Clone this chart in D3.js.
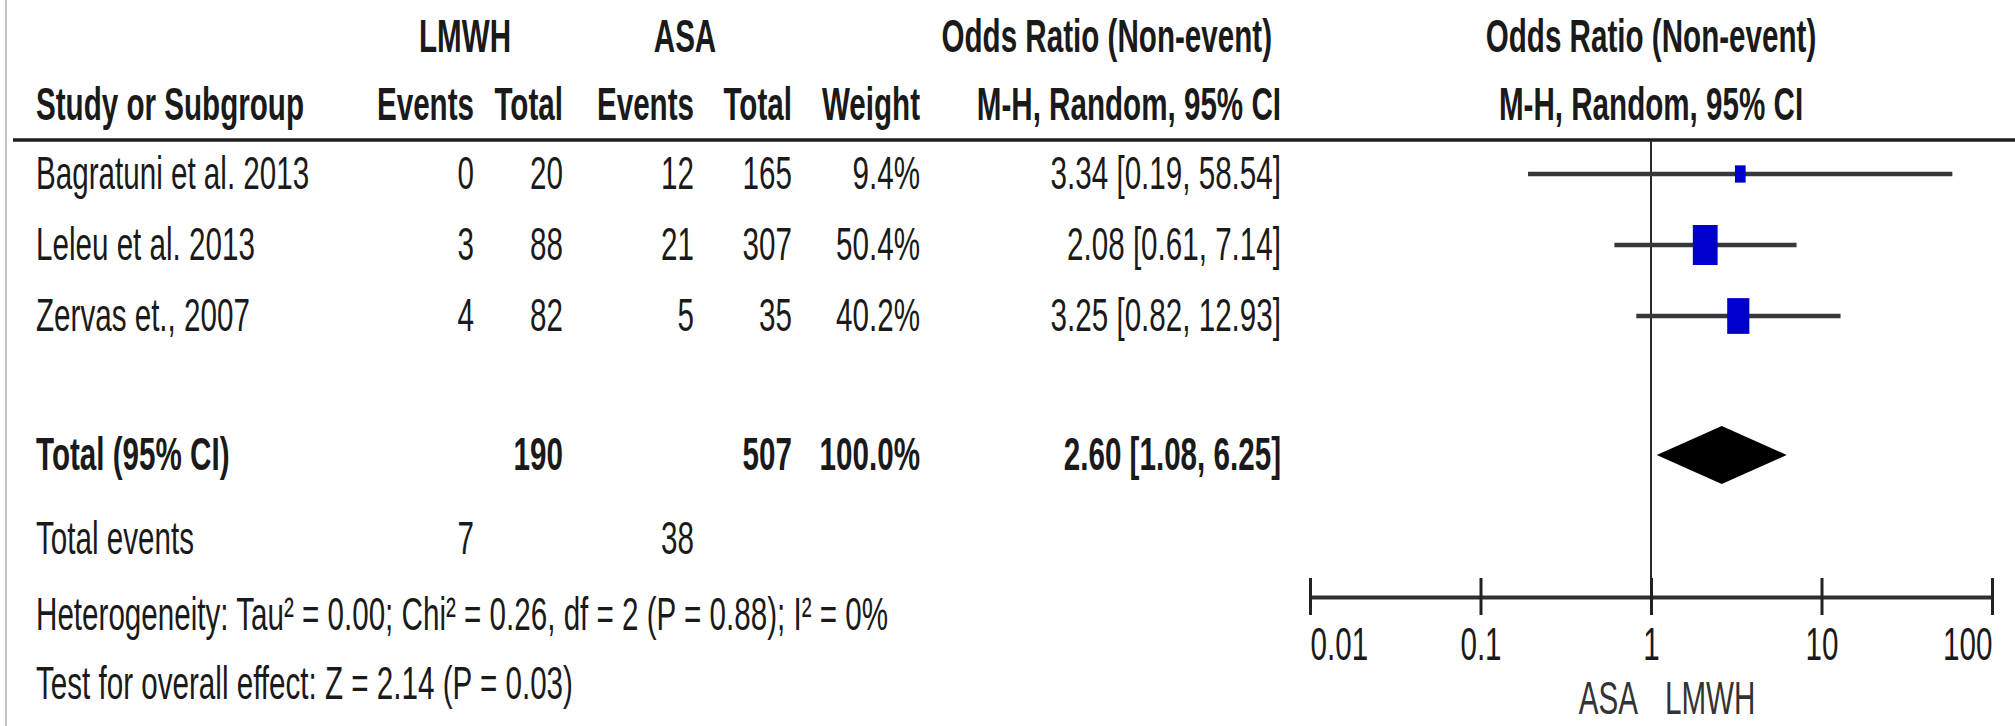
<!DOCTYPE html>
<html>
<head>
<meta charset="utf-8">
<script src="https://cdn.jsdelivr.net/npm/d3@7"></script>
<style>
  html, body { margin: 0; padding: 0; background: #fff; }
  svg { display: block; }
  text { font-family: "Liberation Sans", Arial, sans-serif; fill: #1a1a1a; }
</style>
</head>
<body>
<svg id="chart" width="2015" height="726"></svg>
<script>
// Study-level data
const studies    = ["Bagratuni et al. 2013", "Leleu et al. 2013", "Zervas et., 2007"];
const lmwhEvents = [0, 3, 4];
const lmwhTotal  = [20, 88, 82];
const asaEvents  = [12, 21, 5];
const asaTotal   = [165, 307, 35];
const weights    = [9.4, 50.4, 40.2];
const oddsRatio  = [3.34, 2.08, 3.25];
const ciLower    = [0.19, 0.61, 0.82];
const ciUpper    = [58.54, 7.14, 12.93];

// Pooled (random effects) estimate: OR, lower, upper
const pooled = [2.60, 1.08, 6.25];

// Axis ticks and labels
const tickValues = [0.01, 0.1, 1, 10, 100];
const tickLabels = ["0.01", "0.1", "1", "10", "100"];
const favourLabels = ["ASA", "LMWH"];

const heterogeneityText = "Heterogeneity: Tau\u00B2 = 0.00; Chi\u00B2 = 0.26, df = 2 (P = 0.88); I\u00B2 = 0%";
const overallText = "Test for overall effect: Z = 2.14 (P = 0.03)";

// ---- layout ----
const FS = 47;          // font size
const SX = 0.63;        // horizontal condensing of the type
const svg = d3.select("#chart");

const col = {
  study: 36,
  lmwhEv: 474, lmwhTot: 563,
  asaEv: 694, asaTot: 792,
  weight: 920, ci: 1281
};
const rowCenter = i => 174 + i * 71;
const totalCenter = 455;
const baseOff = 15;

function label(x, y, s, anchor = "start", bold = false) {
  return svg.append("text")
    .attr("transform", `translate(${x},${y}) scale(${SX},1)`)
    .attr("text-anchor", anchor)
    .attr("font-size", FS)
    .attr("font-weight", bold ? "bold" : "normal")
    .text(s);
}

const f2 = d3.format(".2f");
const f1 = d3.format(".1f");

// left frame edge
svg.append("line").attr("x1", 6).attr("x2", 6).attr("y1", 0).attr("y2", 726)
  .attr("stroke", "#c4c4c4").attr("stroke-width", 2);

// ---- header ----
label(465, 52, "LMWH", "middle", true);
label(685, 52, "ASA", "middle", true);
label(1272, 52, "Odds Ratio (Non-event)", "end", true);

label(col.study, 120, "Study or Subgroup", "start", true);
label(col.lmwhEv, 120, "Events", "end", true);
label(col.lmwhTot, 120, "Total", "end", true);
label(col.asaEv, 120, "Events", "end", true);
label(col.asaTot, 120, "Total", "end", true);
label(col.weight, 120, "Weight", "end", true);
label(col.ci, 120, "M-H, Random, 95% CI", "end", true);

// forest plot header
const x = d3.scaleLog().domain([0.01, 100]).range([1310, 1992]);
label(x(1), 52, "Odds Ratio (Non-event)", "middle", true);
label(x(1), 120, "M-H, Random, 95% CI", "middle", true);

// rule under header
svg.append("line").attr("x1", 13).attr("x2", 2015).attr("y1", 140).attr("y2", 140)
  .attr("stroke", "#1e1e1e").attr("stroke-width", 3.5);

// ---- study rows ----
studies.forEach((s, i) => {
  const y = rowCenter(i) + baseOff;
  label(col.study, y, s);
  label(col.lmwhEv, y, lmwhEvents[i], "end");
  label(col.lmwhTot, y, lmwhTotal[i], "end");
  label(col.asaEv, y, asaEvents[i], "end");
  label(col.asaTot, y, asaTotal[i], "end");
  label(col.weight, y, f1(weights[i]) + "%", "end");
  label(col.ci, y, `${f2(oddsRatio[i])} [${f2(ciLower[i])}, ${f2(ciUpper[i])}]`, "end");
});

// ---- totals ----
const ty = totalCenter + baseOff;
label(col.study, ty, "Total (95% CI)", "start", true);
label(col.lmwhTot, ty, d3.sum(lmwhTotal), "end", true);
label(col.asaTot, ty, d3.sum(asaTotal), "end", true);
label(col.weight, ty, f1(d3.sum(weights)) + "%", "end", true);
label(col.ci, ty, `${f2(pooled[0])} [${f2(pooled[1])}, ${f2(pooled[2])}]`, "end", true);

label(col.study, 554, "Total events");
label(col.lmwhEv, 554, d3.sum(lmwhEvents), "end");
label(col.asaEv, 554, d3.sum(asaEvents), "end");
label(col.study, 630, heterogeneityText);
label(col.study, 699, overallText);

// ---- forest plot ----
const axisY = 597;
const boxH = d3.scaleSqrt().domain([0, d3.max(weights)]).range([0, 40]);

// line of no effect
svg.append("line").attr("x1", x(1)).attr("x2", x(1)).attr("y1", 141).attr("y2", axisY)
  .attr("stroke", "#2a2a2a").attr("stroke-width", 2);

const rows = svg.append("g");
rows.selectAll("line.ci").data(studies).join("line")
  .attr("class", "ci")
  .attr("x1", (d, i) => x(ciLower[i]))
  .attr("x2", (d, i) => x(ciUpper[i]))
  .attr("y1", (d, i) => rowCenter(i))
  .attr("y2", (d, i) => rowCenter(i))
  .attr("stroke", "#383838").attr("stroke-width", 4.5);

rows.selectAll("rect.box").data(studies).join("rect")
  .attr("class", "box")
  .attr("width", (d, i) => boxH(weights[i]) * 0.62)
  .attr("height", (d, i) => boxH(weights[i]))
  .attr("x", (d, i) => x(oddsRatio[i]) - boxH(weights[i]) * 0.62 / 2)
  .attr("y", (d, i) => rowCenter(i) - boxH(weights[i]) / 2)
  .attr("fill", "#0000cc");

// pooled diamond
const dh = 29;
svg.append("path")
  .attr("d", d3.line()([
    [x(pooled[1]), totalCenter],
    [x(pooled[0]), totalCenter - dh],
    [x(pooled[2]), totalCenter],
    [x(pooled[0]), totalCenter + dh]
  ]) + "Z")
  .attr("fill", "#000");

// axis
const axis = d3.axisBottom(x)
  .tickValues(tickValues)
  .tickFormat((d, i) => tickLabels[i])
  .tickSizeInner(18)
  .tickSizeOuter(0);

const gAxis = svg.append("g").attr("transform", `translate(0,${axisY})`).call(axis);
gAxis.select(".domain").attr("stroke", "#303030").attr("stroke-width", 4);
gAxis.selectAll(".tick line").attr("y1", -19).attr("y2", 18)
  .attr("stroke", "#222").attr("stroke-width", 3);
gAxis.selectAll(".tick text")
  .attr("y", null).attr("dy", null)
  .attr("transform", `translate(0,63) scale(${SX},1)`)
  .attr("font-size", FS)
  .attr("font-family", "Liberation Sans, Arial, sans-serif")
  .attr("fill", "#1a1a1a")
  .attr("text-anchor", (d, i) => i === 0 ? "start" : (i === tickValues.length - 1 ? "end" : "middle"));

label(x(1) - 13, 714, favourLabels[0], "end").style("fill", "#333");
label(x(1) + 14, 714, favourLabels[1], "start").style("fill", "#333");
</script>
</body>
</html>
